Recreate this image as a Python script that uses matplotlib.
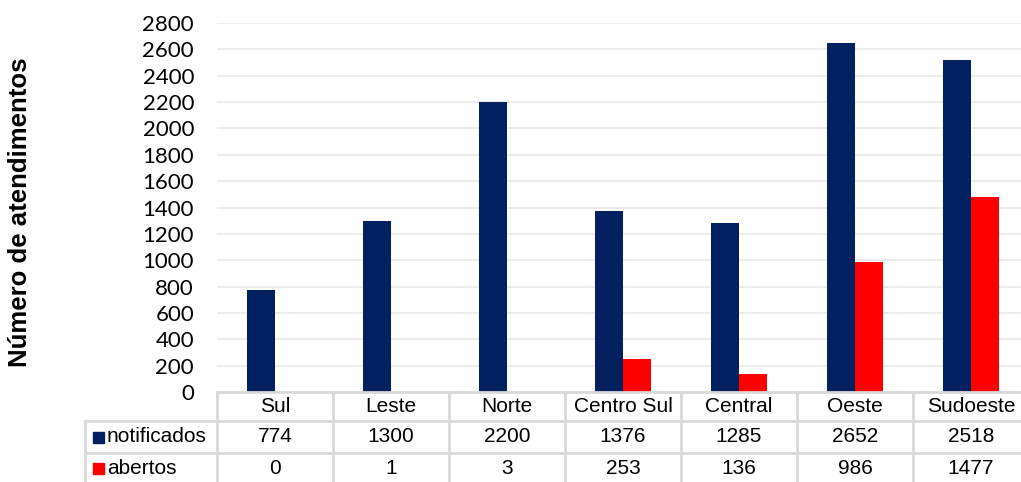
import matplotlib
matplotlib.use('Agg')
import matplotlib.pyplot as plt
from matplotlib.transforms import blended_transform_factory
from matplotlib.patches import Rectangle
import numpy as np

regioes = ['Sul', 'Leste', 'Norte', 'Centro Sul', 'Central', 'Oeste', 'Sudoeste']
notificados = [774, 1300, 2200, 1376, 1285, 2652, 2518]
abertos = [0, 1, 3, 253, 136, 986, 1477]
series = [('notificados', notificados, '#002060'), ('abertos', abertos, '#ff0000')]
yticks = list(range(0, 2801, 200))

W, H = 1021, 482
fig = plt.figure(figsize=(W / 100, H / 100), dpi=100)

# plot area in pixels: left 217, right 1029 (runs past the edge), top 23, bottom 392
left, right, top, bottom = 217, 1029, 23, 392
ax = fig.add_axes([left / W, 1 - bottom / H, (right - left) / W, (bottom - top) / H])

x = np.arange(len(regioes))
bw = 0.24
ax.bar(x - bw / 2, notificados, bw, color='#002060', zorder=3)
ax.bar(x + bw / 2, abertos, bw, color='#ff0000', zorder=3)

ax.set_xlim(-0.5, len(regioes) - 0.5)
ax.set_ylim(0, 2800)
ax.set_yticks(yticks)
ax.set_yticklabels([str(v) for v in yticks], fontfamily='Lato', fontsize=16)
ax.tick_params(axis='y', length=0, pad=16.5)
ax.set_xticks([])
ax.grid(axis='y', color='#ececec', linewidth=1.5, zorder=0)
for s in ax.spines.values():
    s.set_visible(False)

fig.text(20 / W, 1 - 212 / H, 'Número de atendimentos', rotation=90,
         ha='center', va='center', fontsize=18.5, fontweight='bold',
         fontfamily='Liberation Sans')

# data table under the axis
tr = blended_transform_factory(ax.transData, fig.transFigure)
def fy(py):
    return 1 - py / H

line_kw = dict(color='#d9d9d9', linewidth=2, clip_on=False, zorder=4)
table_font = dict(fontsize=15, fontfamily='Liberation Sans', color='black')

# horizontal borders
ax.plot([-0.5, len(regioes) - 0.5], [fy(392)] * 2, transform=tr, **line_kw)
x_left = -0.5 - (left - 85) / ((right - left) / len(regioes))
for py in (421, 453):
    ax.plot([x_left, len(regioes) - 0.5], [fy(py)] * 2, transform=tr, **line_kw)
# vertical borders
for k in range(len(regioes) + 1):
    ax.plot([k - 0.5, k - 0.5], [fy(392), fy(H)], transform=tr, **line_kw)
ax.plot([x_left, x_left], [fy(421), fy(H)], transform=tr, **line_kw)

# header row and value rows
for i, r in enumerate(regioes):
    ax.text(i, fy(407), r, transform=tr, ha='center', va='center', **table_font)
row_y = [437, 468]
for (nome, vals, cor), py in zip(series, row_y):
    for i, v in enumerate(vals):
        ax.text(i, fy(py), str(v), transform=tr, ha='center', va='center', **table_font)
    fig.patches.append(Rectangle((93 / W, fy(py + 5.5)), 11 / W, 11 / H,
                                 transform=fig.transFigure, color=cor))
    fig.text(107 / W, fy(py), nome, ha='left', va='center', **table_font)

fig.savefig('out.png', dpi=100)
